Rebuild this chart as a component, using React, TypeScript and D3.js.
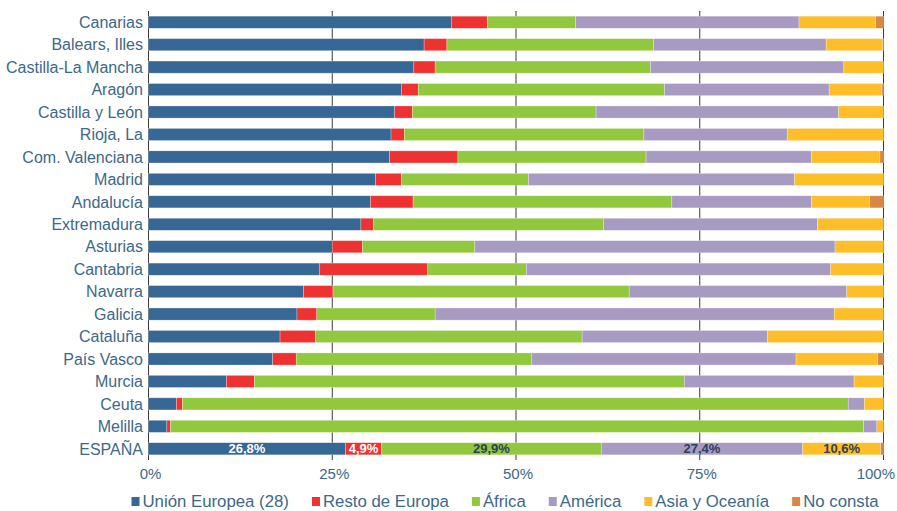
import React, { useMemo } from "react";
import * as d3 from "d3";

const categories = [
  "Canarias", "Balears, Illes", "Castilla-La Mancha", "Aragón", "Castilla y León",
  "Rioja, La", "Com. Valenciana", "Madrid", "Andalucía", "Extremadura",
  "Asturias", "Cantabria", "Navarra", "Galicia", "Cataluña",
  "País Vasco", "Murcia", "Ceuta", "Melilla", "ESPAÑA",
];

const seriesNames = ["Unión Europea (28)", "Resto de Europa", "África", "América", "Asia y Oceanía", "No consta"];

const unionEuropea = [41.2, 37.5, 36.1, 34.4, 33.5, 33.0, 32.8, 30.9, 30.2, 28.9, 25.0, 23.3, 21.1, 20.2, 17.9, 16.9, 10.6, 3.8, 2.5, 26.8];
const restoEuropa = [4.9, 3.1, 2.9, 2.3, 2.4, 1.8, 9.3, 3.5, 5.8, 1.7, 4.1, 14.7, 4.0, 2.7, 4.8, 3.2, 3.8, 0.8, 0.5, 4.9];
const africa = [12.0, 28.1, 29.3, 33.5, 25.0, 32.6, 25.6, 17.3, 35.2, 31.3, 15.3, 13.4, 40.3, 16.1, 36.3, 32.0, 58.5, 90.6, 94.3, 29.9];
const america = [30.4, 23.5, 26.3, 22.4, 33.0, 19.5, 22.5, 36.2, 19.0, 29.1, 49.0, 41.4, 29.6, 54.3, 25.2, 36.0, 23.1, 2.2, 1.8, 27.4];
const asiaOceania = [10.4, 7.7, 5.4, 7.2, 6.1, 13.1, 9.3, 12.1, 7.9, 9.0, 6.6, 7.2, 5.0, 6.7, 15.8, 11.1, 4.0, 2.6, 0.9, 10.6];
const noConsta = [1.1, 0.1, 0.0, 0.2, 0.0, 0.0, 0.5, 0.0, 1.9, 0.0, 0.0, 0.0, 0.0, 0.0, 0.0, 0.8, 0.0, 0.0, 0.0, 0.4];

const xTicks = [0, 0.25, 0.5, 0.75, 1];
const labelledCategory = "ESPAÑA";

const colors = ["#376795", "#ee3131", "#92c83e", "#a89bc2", "#fdbe2a", "#d98844"];
const labelColors = ["#ffffff", "#ffffff", "#2c405c", "#2c405c", "#2c405c", "#2c405c"];
const textColor = "#3c6889";
const FONT = "'Liberation Sans', Arial, sans-serif";

const W = 897;
const H = 511;

function measure(text: string, font: string): number {
  if (typeof document === "undefined") return text.length * 8;
  const c = document.createElement("canvas");
  const ctx = c.getContext("2d");
  if (!ctx) return text.length * 8;
  ctx.font = font;
  return ctx.measureText(text).width;
}

export default function App() {
  const rows = useMemo(
    () =>
      categories.map((c, i) => ({
        cat: c,
        s0: unionEuropea[i],
        s1: restoEuropa[i],
        s2: africa[i],
        s3: america[i],
        s4: asiaOceania[i],
        s5: noConsta[i],
      })),
    []
  );
  const keys = ["s0", "s1", "s2", "s3", "s4", "s5"];
  const stacked = d3.stack<any>().keys(keys).offset(d3.stackOffsetExpand)(rows);

  const x = d3.scaleLinear().domain([0, 1]).range([148.5, 883.5]);
  const y = d3.scaleBand<string>().domain(categories).range([11, 460]).paddingInner(0.46).paddingOuter(0.23);

  const fmt = (v: number) => d3.format(".1f")(v).replace(".", ",") + "%";

  // legend layout
  const legendSize = 16.8;
  const legendFont = `${legendSize}px ${FONT}`;
  let lx = 131.5;
  const legendItems = seriesNames.map((n, i) => {
    const item = { name: n, x: lx, color: colors[i] };
    lx += 8 + 3 + measure(n, legendFont) + 23;
    return item;
  });

  return (
    <svg width={W} height={H} style={{ position: "absolute", left: 0, top: 0, background: "#fff" }} fontFamily={FONT}>
      {/* gridlines */}
      {xTicks.map((t) => (
        <line key={"g" + t} x1={x(t)} x2={x(t)} y1={11} y2={460} stroke="#3a3a3a" strokeWidth={1} />
      ))}
      {/* bars */}
      {stacked.map((layer, si) => (
        <g key={layer.key} fill={colors[si]}>
          {layer.map((d: any, i: number) => {
            const w = x(d[1]) - x(d[0]);
            if (w <= 0.01) return null;
            return (
              <rect
                key={i}
                x={x(d[0])}
                y={y(d.data.cat)!}
                width={w}
                height={y.bandwidth()}
                stroke="#ffffff"
                strokeOpacity={0.45}
                strokeWidth={0.6}
              />
            );
          })}
        </g>
      ))}
      {/* bar labels for ESPAÑA */}
      {stacked.map((layer, si) => {
        if (si > 4) return null;
        const idx = categories.indexOf(labelledCategory);
        const d: any = layer[idx];
        const cx = (x(d[0]) + x(d[1])) / 2;
        const cy = y(labelledCategory)! + y.bandwidth() / 2;
        const raw = [unionEuropea, restoEuropa, africa, america, asiaOceania][si][idx];
        return (
          <text
            key={"l" + si}
            x={cx}
            y={cy}
            dy="0.36em"
            textAnchor="middle"
            fontSize={13}
            fontWeight="bold"
            fill={labelColors[si]}
          >
            {fmt(raw)}
          </text>
        );
      })}
      {/* category labels */}
      {categories.map((c) => (
        <text
          key={"c" + c}
          x={143}
          y={y(c)! + y.bandwidth() / 2}
          dy="0.36em"
          textAnchor="end"
          fontSize={16}
          fill={textColor}
        >
          {c}
        </text>
      ))}
      {/* x tick labels */}
      {xTicks.map((t, i) => {
        const last = i === xTicks.length - 1;
        return (
          <text
            key={"t" + t}
            x={last ? 895 : x(t) + 2}
            y={479}
            textAnchor={last ? "end" : "middle"}
            fontSize={15}
            fill={textColor}
          >
            {d3.format(".0%")(t)}
          </text>
        );
      })}
      {/* legend */}
      {legendItems.map((it) => (
        <g key={"lg" + it.name}>
          <rect x={it.x} y={497} width={8} height={9} fill={it.color} />
          <text x={it.x + 11} y={506.5} fontSize={legendSize} fill={textColor}>
            {it.name}
          </text>
        </g>
      ))}
    </svg>
  );
}
